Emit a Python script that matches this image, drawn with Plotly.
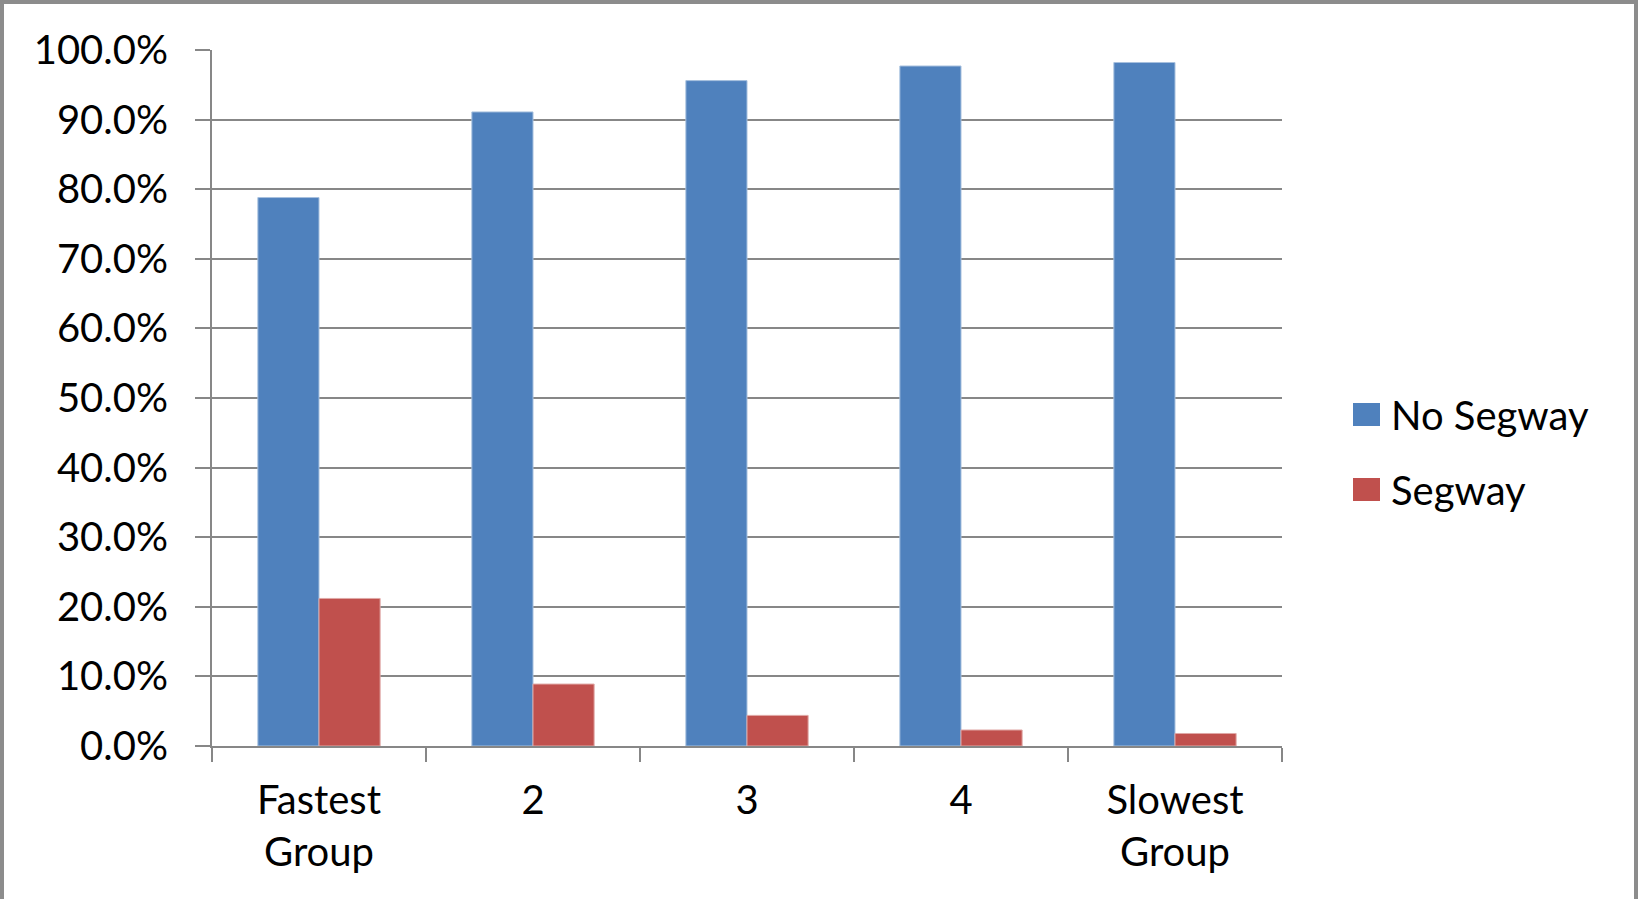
import plotly.graph_objects as go

# Share of finishers in each speed group, with and without a Segway
groups = ["Fastest<br>Group", "2", "3", "4", "Slowest<br>Group"]
no_segway = [0.788, 0.911, 0.956, 0.977, 0.982]
segway = [0.212, 0.089, 0.044, 0.023, 0.018]
series_names = ["No Segway", "Segway"]
series_colors = ["#4F81BD", "#C0504D"]
edge_colors = ["#A7C0DE", "#E0A8A6"]
y_ticks = [i / 10 for i in range(11)]

W, H = 1638, 899
L, R, T, B = 212, 1282, 50, 746  # plot area in pixels
FONT = "Lato"
FS = 40
GRID = "#878787"


def px_x(p):
    return (p - L) / (R - L)


def px_y(p):
    return (B - p) / (B - T)


fig = go.Figure()
for name, vals, col, edge in zip(series_names, [no_segway, segway], series_colors, edge_colors):
    fig.add_trace(go.Bar(
        x=groups, y=vals, name=name, showlegend=False,
        marker=dict(color=col, line=dict(color=edge, width=1)),
    ))

shapes = [
    # outer frame
    dict(type="rect", xref="paper", yref="paper",
         x0=px_x(2), x1=px_x(1636), y0=px_y(2), y1=px_y(910),
         line=dict(color="#8C8C8C", width=4), fillcolor="rgba(0,0,0,0)", layer="above"),
]
annotations = []
legend_rows = [(403, 426), (478, 501)]
for (top, bot), name, col in zip(legend_rows, series_names, series_colors):
    shapes.append(dict(type="rect", xref="paper", yref="paper",
                       x0=px_x(1353), x1=px_x(1380), y0=px_y(bot), y1=px_y(top),
                       fillcolor=col, line=dict(width=0)))
    annotations.append(dict(xref="paper", yref="paper", x=px_x(1389), y=px_y((top + bot) / 2),
                            xanchor="left", yanchor="middle", showarrow=False, text=name,
                            font=dict(family=FONT, size=FS, color="#000000")))

fig.update_layout(
    width=W, height=H,
    margin=dict(l=L, r=W - R, t=T, b=H - B, pad=0),
    paper_bgcolor="white", plot_bgcolor="white",
    barmode="group", bargap=0.4286, bargroupgap=0,
    font=dict(family=FONT, size=FS, color="#000000"),
    shapes=shapes, annotations=annotations,
    showlegend=False,
)
fig.update_xaxes(
    type="category", showline=True, linecolor=GRID, linewidth=2,
    ticks="outside", tickson="boundaries", ticklen=14, tickwidth=2, tickcolor=GRID,
    showgrid=False, ticklabelstandoff=18,
    tickfont=dict(family=FONT, size=FS, color="#000000"),
)
fig.update_yaxes(
    range=[0, 1], tickvals=y_ticks, tickformat=".1%",
    showline=True, linecolor=GRID, linewidth=2,
    ticks="outside", ticklen=15, tickwidth=2, tickcolor=GRID,
    showgrid=True, gridcolor=GRID, gridwidth=2, zeroline=False,
    ticklabelstandoff=19,
    tickfont=dict(family=FONT, size=FS, color="#000000"),
)

fig.write_html("out.html")
